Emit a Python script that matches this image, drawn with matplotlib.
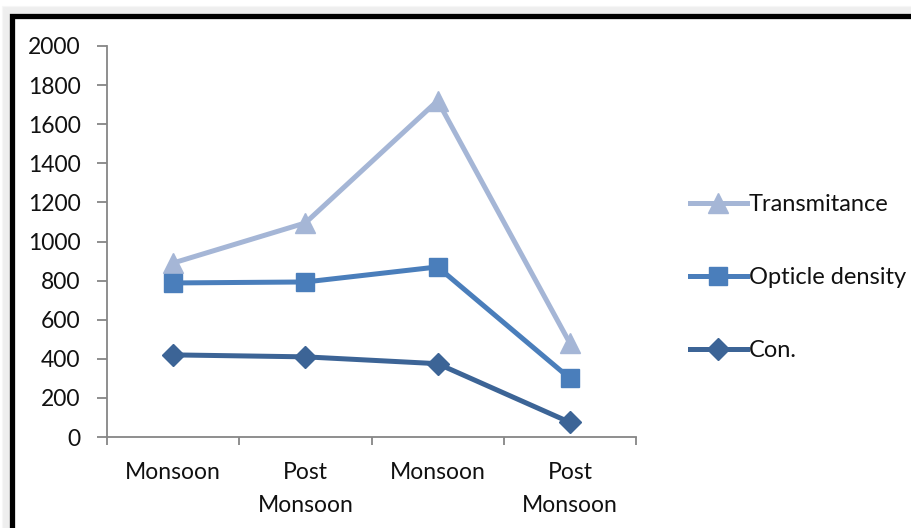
import matplotlib.pyplot as plt
from matplotlib.patches import Rectangle

# categories and series
seasons = ["Monsoon", "Post\nMonsoon", "Monsoon", "Post\nMonsoon"]
transmitance = [890, 1095, 1720, 480]
opticle_density = [788, 793, 870, 300]
con = [420, 410, 375, 75]

plt.rcParams['font.family'] = ['Lato', 'DejaVu Sans']

fig = plt.figure(figsize=(9.12, 5.28), dpi=100)
W, H = 912, 528

# grey shadow + thick black frame around the chart area
for i in range(10):
    fig.patches.append(Rectangle(((12 - i) / W, -0.1), 1.2, (H - 16 + i) / H + 0.1,
                                 transform=fig.transFigure, fill=False,
                                 edgecolor='grey', alpha=0.06, linewidth=1.5, zorder=0))
fig.patches.append(Rectangle((12.5 / W, -0.1), 1.2, (H - 16) / H + 0.1,
                             transform=fig.transFigure, fill=False,
                             edgecolor='black', linewidth=3.8, zorder=1))

ax = fig.add_axes([107 / W, 1 - 437 / H, (636 - 107) / W, (437 - 46) / H])

x = range(len(seasons))
ax.plot(x, transmitance, color='#A5B6D6', lw=3.6, marker='^', ms=15, label='Transmitance')
ax.plot(x, opticle_density, color='#4A7EBB', lw=3.6, marker='s', ms=13.5, label='Opticle density')
ax.plot(x, con, color='#3C6496', lw=3.6, marker='D', ms=11, label='Con.')

ax.set_ylim(0, 2000)
ax.set_yticks(range(0, 2001, 200))
ax.set_xlim(-0.5, 3.5)
ax.set_xticks([-0.5, 0.5, 1.5, 2.5, 3.5])
ax.set_xticklabels([])
ax.set_xticks(x, minor=True)
ax.set_xticklabels(seasons, minor=True, fontsize=16.5, linespacing=1.68, va='top')
ax.tick_params(axis='x', which='minor', length=0, pad=18)
ax.tick_params(axis='x', which='major', length=6, color='#868686', width=1.3)
ax.tick_params(axis='y', length=7, color='#868686', width=1.3, pad=12, labelsize=16.5,
               labelcolor='#111111')
for t in ax.get_xticklabels(minor=True):
    t.set_color('#111111')

for s in ['top', 'right']:
    ax.spines[s].set_visible(False)
for s in ['left', 'bottom']:
    ax.spines[s].set_color('#868686')
    ax.spines[s].set_linewidth(1.3)

leg = fig.legend(loc='center left', bbox_to_anchor=(690 / W, 1 - 277.5 / H), frameon=False,
                 fontsize=17, handlelength=2.4, handletextpad=0.1,
                 labelspacing=2.2, borderaxespad=0, borderpad=0)
for t in leg.get_texts():
    t.set_color('#111111')

fig.savefig('out.png', dpi=100)
